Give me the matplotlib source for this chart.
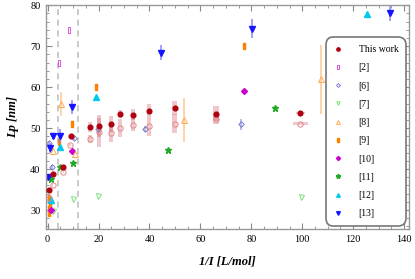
import matplotlib
matplotlib.use('Agg')
import matplotlib.pyplot as plt
from matplotlib.patches import Rectangle
from matplotlib.ticker import MultipleLocator
import numpy as np

''' Format plots'''
plt.rcParams['font.family'] = 'Liberation Serif'
plt.rcParams['font.size'] = 7.5
plt.rcParams['xtick.direction'] = 'in'
plt.rcParams['ytick.direction'] = 'in'

# this work: filled circles and open circles, with error boxes
tw_x = [0.6, 2.0, 6.2, 9.1, 16.7, 20.1, 25.0, 28.4, 33.4, 39.9, 50.0, 66.3, 99.3]
tw_y = [34.9, 38.9, 40.5, 48.0, 50.2, 50.6, 51.0, 53.5, 53.3, 54.2, 54.8, 53.5, 53.7]
tw_xerr = [0.2, 0.2, 0.2, 0.2, 0.8, 0.8, 0.8, 0.8, 0.8, 0.8, 1.0, 1.2, 1.8]
tw_yerr = [0.3, 0.3, 0.3, 0.3, 1.2, 2.7, 1.9, 1.0, 1.3, 1.6, 1.7, 1.8, 0.35]

tw2_x = [0.7, 2.0, 6.2, 8.8, 16.7, 20.1, 25.0, 28.4, 33.4, 39.9, 50.0, 66.3, 99.3]
tw2_y = [32.9, 36.0, 39.4, 45.9, 47.3, 49.0, 48.8, 50.0, 50.8, 50.4, 51.1, 52.3, 51.1]
tw2_xerr = [0.2, 0.2, 0.2, 0.2, 0.8, 0.8, 0.8, 0.8, 0.8, 0.8, 1.0, 1.2, 3.0]
tw2_yerr = [0.3, 0.3, 0.3, 0.3, 1.0, 3.5, 2.2, 2.2, 1.6, 2.3, 2.3, 1.4, 0.4]

# literature data
r2_x = [4.4, 8.3]
r2_y = [66.0, 73.9]

r6_x = [0.7, 1.9, 10.4, 19.7, 38.4, 75.8]
r6_y = [46.3, 40.4, 47.6, 49.9, 49.8, 50.9]
r6_err = [0.6, 0.6, 0.5, 1.2, 0.8, 1.3]

r7_x = [2.3, 10.1, 19.9, 99.7]
r7_y = [29.8, 32.6, 33.4, 33.3]

r8_x = [2.1, 5.3, 10.9, 53.6, 107.3]
r8_y = [44.5, 55.9, 43.6, 51.9, 61.9]
r8_err = [0.0, 3.0, 0.0, 5.4, 8.4]

r9_x = [0.5, 0.6, 0.8, 1.0, 0.5, 4.6, 9.7, 19.0, 77.2]
r9_y = [29.4, 30.3, 31.2, 32.0, 33.0, 46.5, 51.0, 60.0, 70.0]

r10_x = [1.2, 9.5, 77.1]
r10_y = [30.0, 44.5, 59.0]

r11_x = [1.2, 4.9, 9.9, 47.1, 89.2]
r11_y = [37.5, 40.6, 41.5, 44.6, 54.8]

r12_x = [1.2, 4.9, 19.0, 125.6]
r12_y = [32.5, 45.4, 57.5, 77.8]

r13_x = [0.3, 1.0, 2.0, 5.0, 9.7, 44.6, 80.3, 134.6]
r13_y = [38.0, 45.1, 48.1, 48.1, 55.1, 68.4, 74.3, 78.2]
r13_err = [0.8, 1.2, 0.8, 1.8, 1.7, 1.8, 2.2, 2.0]

dash_x = [4.2, 12.1]

fig = plt.figure(figsize=(4.15, 2.79), dpi=100)
ax = fig.add_axes([0.111, 0.178, 0.875, 0.805])

for xv in dash_x:
    ax.axvline(xv, color='#bdbdbd', ls=(0, (4, 3)), lw=1.1, zorder=0)

# error boxes for this work
for x, y, dx, dy in zip(tw_x, tw_y, tw_xerr, tw_yerr):
    ax.add_patch(Rectangle((x - dx, y - dy), 2 * dx, 2 * dy, facecolor='#d04858',
                           alpha=0.3, edgecolor='none', zorder=1))
for x, y, dx, dy in zip(tw2_x, tw2_y, tw2_xerr, tw2_yerr):
    ax.add_patch(Rectangle((x - dx, y - dy), 2 * dx, 2 * dy, facecolor='#d04858',
                           alpha=0.3, edgecolor='none', zorder=1))

ax.plot(tw2_x, tw2_y, 'o', ms=3.8, mfc='none', mec='#e08888', mew=0.7, zorder=3)
h_tw, = ax.plot(tw_x, tw_y, 'o', ms=3.4, color='#b00010', zorder=4)

rect = [(-0.5, -1), (0.5, -1), (0.5, 1), (-0.5, 1), (-0.5, -1)]

h2, = ax.plot(r2_x, r2_y, ls='none', marker=rect, ms=4.2, mfc='none', mec='#dd55dd', mew=0.7)
h6 = ax.errorbar(r6_x, r6_y, yerr=r6_err, ls='none', marker='D', ms=2.8, mfc='none', mec='#6a6acc',
                 mew=0.6, ecolor='#a8a8e8', elinewidth=1.1)
h7, = ax.plot(r7_x, r7_y, ls='none', marker='v', ms=3.6, mfc='none', mec='#66dd66', mew=0.6)
h8 = ax.errorbar(r8_x, r8_y, yerr=r8_err, ls='none', marker='^', ms=4.0, mfc='none', mec='#ffa850',
                 mew=0.7, ecolor='#ffc890', elinewidth=1.1)
h9, = ax.plot(r9_x, r9_y, ls='none', marker=rect, ms=3.8, color='#ff8000')
h10, = ax.plot(r10_x, r10_y, ls='none', marker='D', ms=3.0, color='#cc00cc')
h11, = ax.plot(r11_x, r11_y, ls='none', marker='*', ms=5.0, color='#20a820')
h12, = ax.plot(r12_x, r12_y, ls='none', marker='^', ms=3.8, color='#00c8ee')
h13 = ax.errorbar(r13_x, r13_y, yerr=r13_err, ls='none', marker='v', ms=3.8, color='#1515ff',
                  ecolor='#8888ff', elinewidth=1.1)

ax.set_xlim(-0.6, 142)
ax.set_ylim(25.3, 80.1)
ax.xaxis.set_major_locator(MultipleLocator(20))
ax.xaxis.set_minor_locator(MultipleLocator(5))
ax.yaxis.set_major_locator(MultipleLocator(10))
ax.yaxis.set_minor_locator(MultipleLocator(2))
ax.tick_params(which='both', top=True, right=True, color='#888888')
ax.tick_params(which='major', length=4, width=0.8, pad=4)
ax.tick_params(which='minor', length=2, width=0.6)
ax.set_yticks([30, 40, 50, 60, 70, 80])
for s in ax.spines.values():
    s.set_color('#999999')
    s.set_linewidth(1.0)

ax.set_xlabel('1/I [L/mol]', fontsize=9, fontweight='bold', style='italic', labelpad=8)
ax.set_ylabel('Lp [nm]', fontsize=9, fontweight='bold', style='italic', labelpad=8)

# legend shows markers only
handles = [h_tw, h2, h6[0], h7, h8[0], h9, h10, h11, h12, h13[0]]
labels = ['This work', '[2]', '[6]', '[7]', '[8]', '[9]', '[10]', '[11]', '[12]', '[13]']
leg = ax.legend(handles, labels, loc='upper left', bbox_to_anchor=(0.775, 0.846), fontsize=7,
                frameon=True, fancybox=True, edgecolor='#777777', framealpha=1,
                labelspacing=0.95, handlelength=1.0, handletextpad=1.6, borderpad=0.6,
                markerscale=0.7, borderaxespad=0)
leg.get_frame().set_linewidth(1.2)
leg.get_frame().set_boxstyle('round,pad=0.2,rounding_size=0.8')

plt.savefig('out.png', dpi=100)
